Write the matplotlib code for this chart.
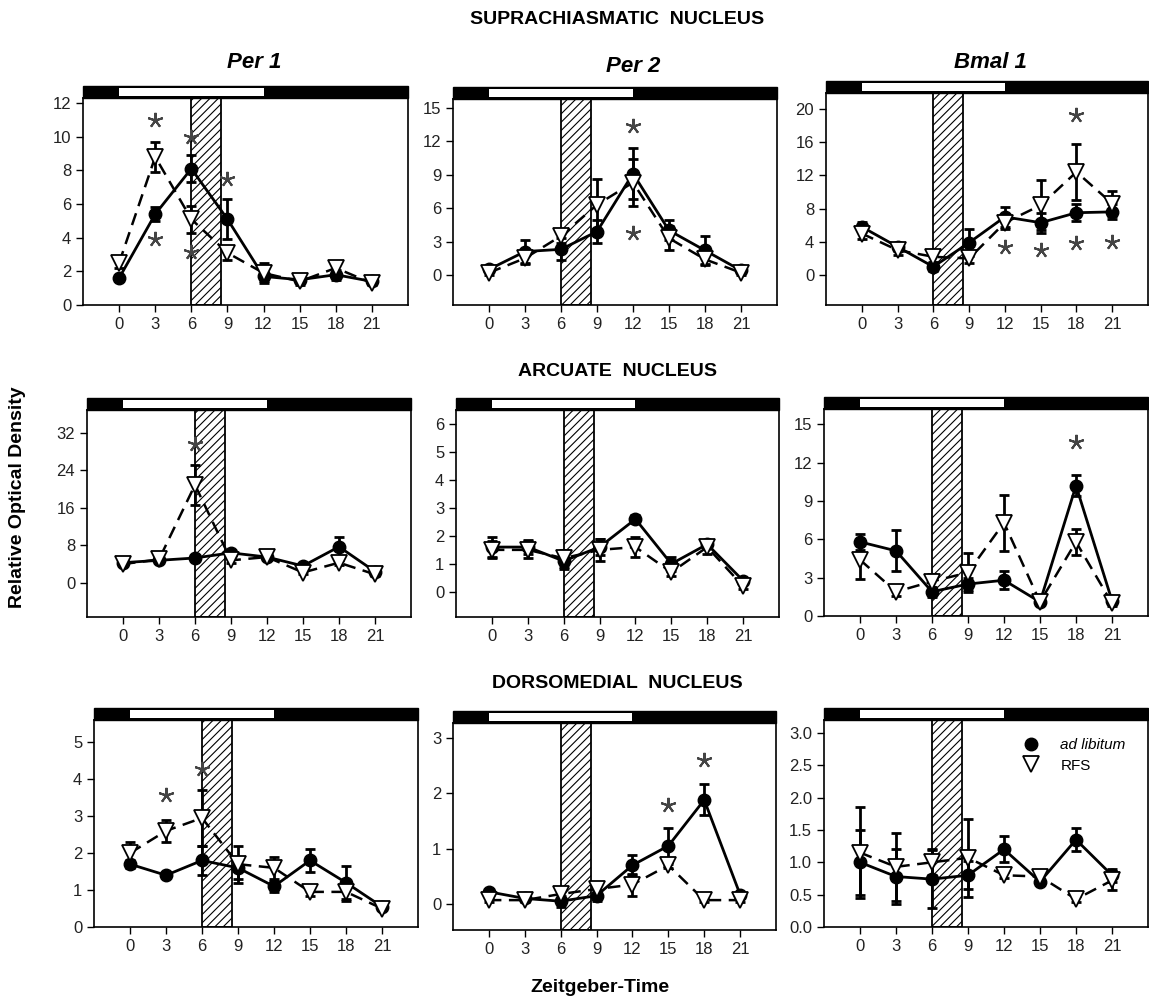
import matplotlib
matplotlib.use('Agg')
import matplotlib.pyplot as plt
from matplotlib.lines import Line2D
from matplotlib.patches import Rectangle

plt.rcParams['font.family'] = ['Liberation Sans', 'DejaVu Sans']
plt.rcParams['hatch.linewidth'] = 0.8

# --------------------------------------
# data
# --------------------------------------
zt = [0, 3, 6, 9, 12, 15, 18, 21]
light_on, light_off = 0, 12
food_start, food_end = 6, 8.5

# Suprachiasmatic nucleus
scn_per1_al = [1.6, 5.4, 8.1, 5.1, 1.7, 1.5, 1.8, 1.4]
scn_per1_al_err = [0.2, 0.4, 0.8, 1.2, 0.3, 0.2, 0.3, 0.1]
scn_per1_rfs = [2.5, 8.8, 5.1, 3.1, 1.9, 1.4, 2.2, 1.3]
scn_per1_rfs_err = [0.3, 0.9, 0.8, 0.4, 0.6, 0.2, 0.3, 0.1]
scn_per1_stars = [(3, 11.0), (3, 3.9), (6, 10.0), (6, 3.15), (9, 7.5)]

scn_per2_al = [0.5, 2.1, 2.3, 3.9, 9.1, 4.0, 2.2, 0.4]
scn_per2_al_err = [0.2, 1.0, 1.0, 1.0, 2.3, 0.9, 1.3, 0.2]
scn_per2_rfs = [0.2, 1.5, 3.5, 6.3, 8.3, 3.3, 1.4, 0.2]
scn_per2_rfs_err = [0.2, 0.5, 0.6, 2.3, 2.1, 1.1, 0.4, 0.2]
scn_per2_stars = [(12, 13.4), (12, 3.8)]

scn_bmal_al = [5.8, 3.4, 1.0, 3.9, 7.0, 6.3, 7.5, 7.6]
scn_bmal_al_err = [0.6, 0.5, 0.5, 1.6, 1.2, 1.2, 1.0, 0.9]
scn_bmal_rfs = [5.0, 3.0, 2.2, 2.0, 6.3, 8.4, 12.4, 8.6]
scn_bmal_rfs_err = [0.7, 0.6, 0.6, 0.5, 0.7, 3.0, 3.4, 1.5]
scn_bmal_stars = [(12, 3.4), (15, 3.0), (18, 3.9), (21, 4.0), (18, 19.3)]

# Arcuate nucleus
arc_per1_al = [4.3, 4.8, 5.3, 6.4, 5.5, 3.6, 7.7, 2.4]
arc_per1_al_err = [0.5, 0.5, 0.6, 0.5, 0.5, 0.5, 2.0, 0.4]
arc_per1_rfs = [4.0, 5.0, 20.9, 4.8, 5.5, 2.2, 4.3, 1.8]
arc_per1_rfs_err = [0.5, 0.6, 4.3, 0.6, 0.6, 0.4, 0.5, 0.4]
arc_per1_stars = [(6, 29.6)]

arc_per2_al = [1.6, 1.6, 1.1, 1.6, 2.6, 1.0, 1.7, 0.4]
arc_per2_al_err = [0.35, 0.25, 0.3, 0.3, 0.15, 0.25, 0.1, 0.1]
arc_per2_rfs = [1.5, 1.5, 1.2, 1.5, 1.6, 0.7, 1.6, 0.2]
arc_per2_rfs_err = [0.3, 0.3, 0.3, 0.4, 0.35, 0.15, 0.25, 0.1]
arc_per2_stars = []

arc_bmal_al = [5.8, 5.1, 1.9, 2.5, 2.8, 1.1, 10.2, 1.2]
arc_bmal_al_err = [0.6, 1.6, 0.4, 0.5, 0.7, 0.2, 0.8, 0.2]
arc_bmal_rfs = [4.4, 1.9, 2.7, 3.4, 7.3, 1.1, 5.8, 1.0]
arc_bmal_rfs_err = [1.5, 0.3, 0.6, 1.5, 2.2, 0.2, 1.0, 0.2]
arc_bmal_stars = [(18, 13.6)]

# Dorsomedial nucleus
dmh_per1_al = [1.7, 1.4, 1.8, 1.6, 1.1, 1.8, 1.2, 0.55]
dmh_per1_al_err = [0.1, 0.05, 0.4, 0.3, 0.15, 0.3, 0.45, 0.05]
dmh_per1_rfs = [2.0, 2.6, 2.95, 1.7, 1.6, 0.95, 0.95, 0.5]
dmh_per1_rfs_err = [0.3, 0.3, 0.75, 0.5, 0.3, 0.1, 0.25, 0.05]
dmh_per1_stars = [(3, 3.57), (6, 4.27)]

dmh_per2_al = [0.22, 0.1, 0.05, 0.15, 0.7, 1.05, 1.88, 0.17]
dmh_per2_al_err = [0.05, 0.03, 0.1, 0.1, 0.18, 0.32, 0.28, 0.05]
dmh_per2_rfs = [0.07, 0.07, 0.18, 0.27, 0.35, 0.7, 0.07, 0.07]
dmh_per2_rfs_err = [0.03, 0.03, 0.1, 0.12, 0.2, 0.05, 0.03, 0.03]
dmh_per2_stars = [(15, 1.78), (18, 2.6)]

dmh_bmal_al = [1.0, 0.78, 0.74, 0.8, 1.2, 0.7, 1.35, 0.8]
dmh_bmal_al_err = [0.5, 0.42, 0.45, 0.22, 0.2, 0.05, 0.18, 0.1]
dmh_bmal_rfs = [1.15, 0.93, 1.0, 1.07, 0.8, 0.78, 0.43, 0.72]
dmh_bmal_rfs_err = [0.7, 0.53, 0.2, 0.6, 0.05, 0.05, 0.05, 0.15]
dmh_bmal_stars = []

# --------------------------------------
# layout
# --------------------------------------
W, H = 1149, 1008
fig = plt.figure(figsize=(W / 100, H / 100), dpi=100)

def add_ax(l, t, r, b):
    return fig.add_axes([l / W, 1 - b / H, (r - l) / W, (b - t) / H])

def draw_panel(ax, al, al_err, rfs, rfs_err, stars, yticks, ylim, fmt='{:g}'):
    ax.set_xlim(-3, 24)
    ax.set_ylim(*ylim)

    # food access window
    ax.axvspan(food_start, food_end, facecolor='white', edgecolor='black',
               hatch='////', lw=1.3, zorder=1)

    # light/dark bar on top of the box
    h = 12 / (ax.get_position().height * H)
    tr = ax.get_xaxis_transform()
    ax.add_patch(Rectangle((-3, 1), 27, h, transform=tr, facecolor='black',
                           edgecolor='black', lw=1, clip_on=False, zorder=5))
    ax.add_patch(Rectangle((light_on, 1 + h * 0.2), light_off - light_on, h * 0.6,
                           transform=tr, facecolor='white', edgecolor='none',
                           clip_on=False, zorder=6))

    ax.errorbar(zt, al, yerr=al_err, fmt='none', ecolor='black', elinewidth=2,
                capsize=3.5, capthick=2, zorder=3)
    ax.plot(zt, al, '-', color='black', lw=2, marker='o', ms=9, zorder=4)
    ax.errorbar(zt, rfs, yerr=rfs_err, fmt='none', ecolor='black', elinewidth=2,
                capsize=3.5, capthick=2, zorder=3)
    ax.plot(zt, rfs, color='black', lw=1.8, ls=(0, (5, 3)), marker='v', ms=11,
            mfc='white', mec='black', mew=1.3, zorder=4)

    if stars:
        sx, sy = zip(*stars)
        ax.plot(sx, sy, ls='none', marker=(5, 2, 0), ms=11, mew=1.5,
                color='#444444', zorder=4)

    ax.set_xticks(zt)
    ax.set_yticks(yticks)
    ax.set_yticklabels([fmt.format(v) for v in yticks])
    ax.tick_params(direction='out', length=5, width=1, labelsize=12,
                   labelcolor='#222222')
    for s in ax.spines.values():
        s.set_linewidth(1.2)

panels = [
    ((83, 98, 408, 305), scn_per1_al, scn_per1_al_err, scn_per1_rfs, scn_per1_rfs_err,
     scn_per1_stars, [0, 2, 4, 6, 8, 10, 12], (0, 12.3), '{:g}'),
    ((453, 99, 777, 305), scn_per2_al, scn_per2_al_err, scn_per2_rfs, scn_per2_rfs_err,
     scn_per2_stars, [0, 3, 6, 9, 12, 15], (-2.7, 15.8), '{:g}'),
    ((826, 93, 1148, 305), scn_bmal_al, scn_bmal_al_err, scn_bmal_rfs, scn_bmal_rfs_err,
     scn_bmal_stars, [0, 4, 8, 12, 16, 20], (-3.6, 21.9), '{:g}'),
    ((87, 410, 411, 617), arc_per1_al, arc_per1_al_err, arc_per1_rfs, arc_per1_rfs_err,
     arc_per1_stars, [0, 8, 16, 24, 32], (-7.3, 36.9), '{:g}'),
    ((456, 410, 779, 617), arc_per2_al, arc_per2_al_err, arc_per2_rfs, arc_per2_rfs_err,
     arc_per2_stars, [0, 1, 2, 3, 4, 5, 6], (-0.9, 6.5), '{:g}'),
    ((824, 409, 1148, 616), arc_bmal_al, arc_bmal_al_err, arc_bmal_rfs, arc_bmal_rfs_err,
     arc_bmal_stars, [0, 3, 6, 9, 12, 15], (0, 16.2), '{:g}'),
    ((94, 720, 418, 927), dmh_per1_al, dmh_per1_al_err, dmh_per1_rfs, dmh_per1_rfs_err,
     dmh_per1_stars, [0, 1, 2, 3, 4, 5], (0, 5.6), '{:g}'),
    ((453, 723, 776, 930), dmh_per2_al, dmh_per2_al_err, dmh_per2_rfs, dmh_per2_rfs_err,
     dmh_per2_stars, [0, 1, 2, 3], (-0.47, 3.27), '{:g}'),
    ((824, 720, 1148, 927), dmh_bmal_al, dmh_bmal_al_err, dmh_bmal_rfs, dmh_bmal_rfs_err,
     dmh_bmal_stars, [0, 0.5, 1, 1.5, 2, 2.5, 3], (0, 3.2), '{:.1f}'),
]

axes = []
for box, al, ale, rf, rfe, st, yt, yl, f in panels:
    ax = add_ax(*box)
    draw_panel(ax, al, ale, rf, rfe, st, yt, yl, f)
    axes.append(ax)

# legend in the last panel
handles = [Line2D([], [], ls='none', marker='o', color='black', ms=9),
           Line2D([], [], ls='none', marker='v', mfc='white', mec='black', ms=11, mew=1.3)]
leg = axes[-1].legend(handles, ['ad libitum', 'RFS'], loc='upper left',
                      bbox_to_anchor=(0.55, 0.98), frameon=False, fontsize=11,
                      handletextpad=0.9, labelspacing=0.45)
leg.get_texts()[0].set_style('italic')

# headings
narrow = ['Liberation Sans Narrow', 'Liberation Sans', 'DejaVu Sans']
def ftext(x, y, s, **kw):
    fig.text(x / W, 1 - y / H, s, ha='center', va='center', family=narrow, **kw)

ftext(617, 19, 'SUPRACHIASMATIC  NUCLEUS', fontsize=14, weight='bold')
ftext(617, 372, 'ARCUATE  NUCLEUS', fontsize=14, weight='bold')
ftext(617, 684, 'DORSOMEDIAL  NUCLEUS', fontsize=14, weight='bold')
ftext(254, 63, 'Per 1', fontsize=16, weight='bold', style='italic')
ftext(633, 67, 'Per 2', fontsize=16, weight='bold', style='italic')
ftext(990, 63, 'Bmal 1', fontsize=16, weight='bold', style='italic')
ftext(18, 497, 'Relative Optical Density', fontsize=14, weight='bold', rotation=90)
ftext(600, 988, 'Zeitgeber-Time', fontsize=14, weight='bold')

plt.savefig('out.png', dpi=100)
